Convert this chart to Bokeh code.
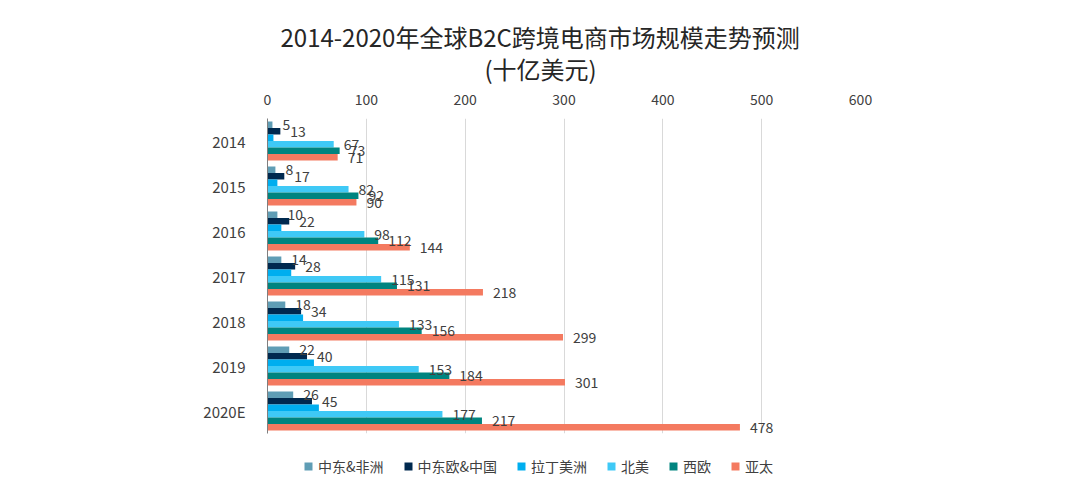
from bokeh.plotting import figure
from bokeh.layouts import column
from bokeh.models import FactorRange, LabelSet, Title, Legend, LegendItem, ColumnDataSource, FixedTicker, Range1d
from bokeh.transform import dodge
from bokeh.core.properties import value
from bokeh.embed import file_html
from bokeh.resources import INLINE

# ---- data ----
years = ["2014", "2015", "2016", "2017", "2018", "2019", "2020E"]
series_names = ["中东&非洲", "中东欧&中国", "拉丁美洲", "北美", "西欧", "亚太"]
mea = [5, 8, 10, 14, 18, 22, 26]
cee_cn = [13, 17, 22, 28, 34, 40, 45]
latam = [6, 10, 14, 24, 36, 47, 52]
north_america = [67, 82, 98, 115, 133, 153, 177]
west_europe = [73, 92, 112, 131, 156, 184, 217]
apac = [71, 90, 144, 218, 299, 301, 478]
x_ticks = [0, 100, 200, 300, 400, 500, 600]
title_line1 = "2014-2020年全球B2C跨境电商市场规模走势预测"
title_line2 = "(十亿美元)"

series_values = [mea, cee_cn, latam, north_america, west_europe, apac]
colors = ["#5F9DB5", "#00294F", "#00AEEF", "#3FC9F6", "#00847F", "#F47A60"]
show_labels = [True, True, False, True, True, True]
offsets = [0.3625, 0.2175, 0.0725, -0.0725, -0.2175, -0.3625]
bar_h = 0.145

FONT = "Noto Sans CJK SC"
TXT = "#404040"

p = figure(width=1080, height=443,
           x_range=(0, 600),
           y_range=FactorRange(factors=years[::-1], range_padding=0),
           x_axis_location="above",
           output_backend="svg", toolbar_location=None,
           min_border_left=267, min_border_right=220,
           min_border_top=118, min_border_bottom=10)

p.outline_line_color = None
p.background_fill_color = "white"
p.border_fill_color = "white"

src = ColumnDataSource(dict(year=years, **{f"s{i}": v for i, v in enumerate(series_values)},
                            **{f"t{i}": [str(x) for x in v] for i, v in enumerate(series_values)}))

for i, name in enumerate(series_names):
    p.hbar(y=dodge("year", offsets[i], range=p.y_range), right=f"s{i}", left=0,
           height=bar_h, source=src, fill_color=colors[i], line_color=None)
    if show_labels[i]:
        ls = LabelSet(x=f"s{i}", y=dodge("year", offsets[i], range=p.y_range), text=f"t{i}",
                      source=src, x_offset=10, y_offset=0,
                      text_align="left", text_baseline="middle",
                      text_font=value(FONT), text_font_size=value("14px"), text_color=TXT)
        p.add_layout(ls)

# axes
xa = p.xaxis[0]
xa.ticker = FixedTicker(ticks=x_ticks)
xa.axis_line_color = None
xa.major_tick_line_color = None
xa.minor_tick_line_color = None
xa.major_label_text_font = FONT
xa.major_label_text_font_size = "14px"
xa.major_label_text_color = TXT
xa.major_label_standoff = 8

ya = p.yaxis[0]
ya.axis_line_color = "#7F7F7F"
ya.axis_line_width = 1
ya.major_tick_line_color = None
ya.minor_tick_line_color = None
ya.major_label_text_font = FONT
ya.major_label_text_font_size = "15px"
ya.major_label_text_color = TXT
ya.major_label_standoff = 16

p.xgrid.grid_line_color = "#D9D9D9"
p.xgrid.ticker = FixedTicker(ticks=x_ticks)
p.ygrid.grid_line_color = None

# title lines (second line added first: nearest to the plot)
p.add_layout(Title(text=title_line2, align="left", offset=217, standoff=10,
                   text_font=FONT, text_font_size="24px", text_font_style="normal",
                   text_color="#262626"), "above")
p.add_layout(Title(text=title_line1, align="left", offset=13, standoff=-20,
                   text_font=FONT, text_font_size="24px", text_font_style="normal",
                   text_color="#262626"), "above")

# legend strip (frames are aligned with the chart above)
lg = figure(width=1080, height=36, x_range=Range1d(0, 1), y_range=Range1d(0, 1),
            x_axis_type=None, y_axis_type=None,
            output_backend="svg", toolbar_location=None,
            min_border_left=0, min_border_right=0, min_border_top=0, min_border_bottom=0)
lg.outline_line_color = None
lg.xgrid.visible = False
lg.ygrid.visible = False
items = []
for i, name in enumerate(series_names):
    r = lg.hbar(y=[-5], left=[0], right=[0], height=0.1, fill_color=colors[i], line_color=None)
    items.append(LegendItem(label=name, renderers=[r]))

legend = Legend(items=items, orientation="horizontal", location=(36, 3),
                glyph_width=10, glyph_height=10, label_height=14,
                label_standoff=5, spacing=19, padding=0, margin=0,
                label_text_font=FONT, label_text_font_size="14px", label_text_color=TXT,
                border_line_color=None, background_fill_alpha=0)
lg.add_layout(legend, "center")

layout = column(p, lg, spacing=0)
open("out.html", "w").write(file_html(layout, INLINE))
